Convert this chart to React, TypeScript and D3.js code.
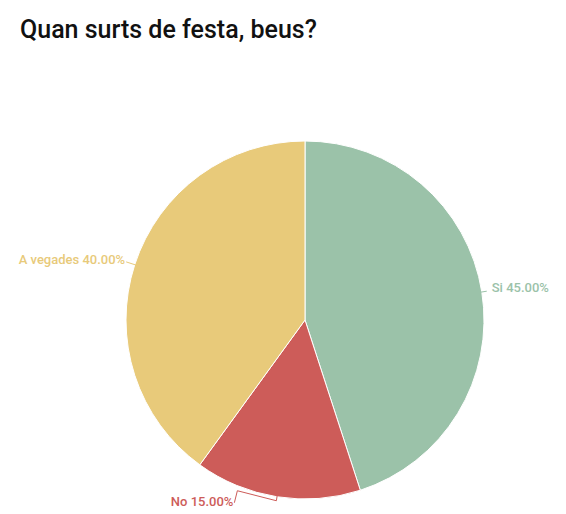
import React from "react";
import * as d3 from "d3";

const categories = ["Si", "No", "A vegades"];
const values = [45, 15, 40];
const colors = ["#9bc2a9", "#cd5c59", "#e8ca7a"];
const title = "Quan surts de festa, beus?";

const W = 566;
const H = 514;
const cx = 305;
const cy = 320;
const R = 179;

export default function App() {
  const pie = d3.pie<number>().sort(null).value((d) => d);
  const arcs = pie(values);
  const arcGen = d3.arc<d3.PieArcDatum<number>>().innerRadius(0).outerRadius(R);
  const total = d3.sum(values);

  const pt = (a: number, r: number): [number, number] => [Math.sin(a) * r, -Math.cos(a) * r];

  return (
    <svg width={W} height={H} style={{ position: "absolute", left: 0, top: 0, background: "#fff" }}>
      <text x={20} y={38} fontFamily="Roboto" fontSize={25} fontWeight={500} fill="#111">
        {title}
      </text>
      <g transform={`translate(${cx},${cy})`}>
        {arcs.map((a, i) => (
          <path key={i} d={arcGen(a) || ""} fill={colors[i]} stroke="#fff" strokeWidth={1} />
        ))}
        {arcs.map((a, i) => {
          const mid = (a.startAngle + a.endAngle) / 2;
          const p0 = pt(mid, R - 1);
          const label = `${categories[i]} ${((values[i] / total) * 100).toFixed(2)}%`;
          let pts: [number, number][];
          let tx: number, ty: number, anchor: string;
          if (i === 0) {
            const p1 = pt(mid, R + 5);
            pts = [p0, p1];
            tx = p1[0] + 5; ty = p1[1] + 1; anchor = "start";
          } else if (i === 1) {
            const p1 = pt(mid, R + 4);
            pts = [p0, p1, [p1[0] - 39, p1[1] - 10], [p1[0] - 42, p1[1] + 2]];
            tx = p1[0] - 43; ty = p1[1] + 5; anchor = "end";
          } else {
            const p1 = pt(mid, R + 9);
            pts = [p0, p1];
            tx = p1[0] - 1; ty = p1[1] + 2; anchor = "end";
          }
          return (
            <g key={"l" + i}>
              <polyline points={pts.map((p) => p.join(",")).join(" ")} fill="none" stroke={colors[i]} strokeWidth={1} />
              <text x={tx} y={ty} textAnchor={anchor} fontFamily="Roboto" fontSize={13} fontWeight={500} fill={colors[i]}>
                {label}
              </text>
            </g>
          );
        })}
      </g>
    </svg>
  );
}
